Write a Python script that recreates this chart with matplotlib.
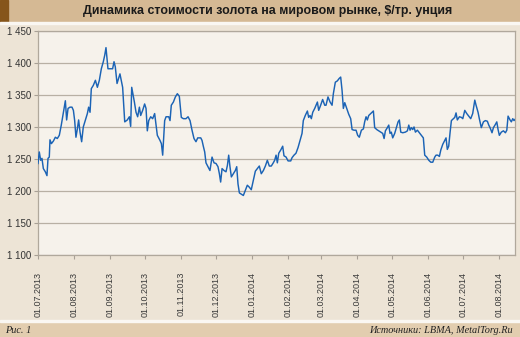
import matplotlib
matplotlib.use('Agg')
import matplotlib.pyplot as plt
import matplotlib.dates as mdates
from matplotlib.patches import Rectangle
import pandas as pd

# LBMA gold price, USD per troy ounce; 'day' counts days from 01.07.2013
day = [
    0, 1.1, 2.3, 3.4, 4.6, 6.3, 7.7, 8.6, 9.7, 10.3, 11.5, 13.2, 14.9, 16.6,
    18.3, 20.0, 21.8, 23.5, 24.6, 25.8, 27.5, 29.2, 30.4, 31.5, 32.6, 33.8,
    34.9, 36.1, 37.5, 38.9, 40.6, 42.4, 43.5, 44.7, 45.8, 47.5, 49.3, 51.0,
    52.7, 54.4, 56.1, 57.3, 58.4, 60.1, 61.9, 64.1, 65.3, 66.4, 67.9,
    70.4, 72.7, 74.5, 76.7, 78.5, 79.6, 80.5, 82.8, 84.2, 85.6, 87.1, 88.2,
    89.9, 91.6, 92.8, 93.9, 95.1, 96.8, 98.5, 100.2, 101.4, 102.5, 104.8,
    106.0, 107.1, 108.8, 110.0, 112.3, 113.4, 114.5, 116.3, 118.0, 119.7,
    121.4, 123.1, 124.9, 127.1, 128.9, 130.6, 132.3, 134.0, 135.7, 137.2,
    139.8, 140.9, 142.0, 143.2, 144.3, 146.0, 147.7, 149.5, 151.2, 152.9,
    154.6, 155.8, 156.9, 158.1, 159.8, 161.5, 162.7, 163.8, 164.9, 166.1,
    167.8, 169.5, 170.7, 171.8, 173.0, 174.7, 176.4, 178.1, 179.8, 181.5,
    183.2, 185.0, 186.7, 188.4, 190.1, 191.8, 193.6, 195.3, 197.0, 198.7,
    200.4, 202.1, 203.3, 204.5, 205.6,
    206.8, 208.5, 210.2, 211.3, 213.1, 214.8, 217.1, 218.2, 219.9, 221.6,
    223.4, 225.1, 226.8, 227.9, 229.6, 231.4, 232.5, 233.7, 234.8, 236.0,
    237.7, 238.8, 240.0, 241.1, 242.8, 244.5, 246.3, 247.4, 249.1, 250.9,
    252.6, 253.7, 255.4, 257.1, 258.8, 260.0, 261.2, 262.3, 263.5, 265.2,
    266.9, 268.6, 269.8, 271.5, 273.2, 274.6,
    276.0, 277.8, 279.5, 280.6, 281.8, 282.9, 284.1, 285.8, 286.9, 288.1,
    289.2, 291.0, 292.7, 294.4, 296.1, 297.3, 298.4, 300.1, 301.3, 302.4,
    303.5, 304.7, 306.4, 308.2, 309.3, 310.4, 311.6, 313.3, 315.6, 317.3,
    318.5, 319.6, 320.7, 321.9, 323.0, 324.2, 325.9, 327.6, 329.3, 331.0,
    332.2, 333.9, 335.7, 337.4, 339.1, 340.8, 341.9, 343.4,
    344.8, 346.0, 347.7, 349.4, 350.5, 351.6, 352.8, 354.0, 355.1, 356.8,
    358.0, 359.1, 360.2, 362.0, 363.7, 364.9, 366.6, 368.3, 370.0, 371.7,
    373.4, 375.2, 376.3, 378.0, 379.1, 380.8, 382.6, 384.3, 386.0, 387.2,
    388.3, 390.0, 391.2, 392.9, 394.1, 395.2, 396.3, 398.0, 399.8, 401.5,
    402.7, 403.8, 405.5, 406.6, 407.8, 408.9, 410.3,
]
price = [
    1243, 1261, 1248, 1251, 1235, 1230, 1224, 1251, 1253, 1280, 1274, 1278,
    1284, 1282, 1287, 1303, 1323, 1341, 1311, 1329, 1331, 1331, 1326, 1310,
    1284, 1297, 1311, 1292, 1277, 1300, 1310, 1321, 1331, 1323, 1360, 1365,
    1373, 1362, 1373, 1391, 1402, 1412, 1424, 1391, 1391, 1391, 1402, 1394,
    1368,
    1383, 1362, 1308, 1311, 1316, 1301, 1362, 1339, 1323, 1316, 1331, 1318,
    1326, 1336, 1329, 1294, 1310, 1316, 1313, 1321, 1303, 1287, 1279, 1274,
    1256, 1310, 1316, 1316, 1310, 1334, 1339, 1347, 1352, 1348, 1315, 1313,
    1313, 1316, 1310, 1295, 1282, 1277, 1283,
    1283, 1279, 1270, 1261, 1244, 1238, 1232, 1253, 1244, 1243, 1238, 1227,
    1214, 1235, 1232, 1230, 1240, 1256, 1238, 1222, 1227, 1232, 1238, 1211,
    1197, 1195, 1193, 1201, 1209, 1206, 1202, 1217, 1231, 1235, 1239, 1227,
    1232, 1239, 1248, 1239, 1239, 1244, 1248, 1256, 1244,
    1259, 1264, 1270, 1255, 1253, 1247, 1247, 1252, 1256, 1259, 1268, 1279,
    1290, 1310, 1318, 1325, 1315, 1318, 1313, 1323, 1329, 1334, 1339, 1326,
    1334, 1343, 1334, 1334, 1347, 1339, 1334, 1352, 1370, 1372, 1376, 1378,
    1357, 1329, 1338, 1329, 1320, 1313, 1296, 1295, 1295, 1287,
    1284, 1295, 1297, 1308, 1316, 1311, 1318, 1321, 1323, 1325, 1299, 1296,
    1294, 1292, 1290, 1282, 1294, 1299, 1303, 1290, 1292, 1283, 1290, 1301,
    1308, 1311, 1292, 1291, 1292, 1294, 1303, 1295, 1299, 1296, 1300, 1292,
    1295, 1291, 1287, 1283, 1256, 1253, 1248, 1245, 1245, 1253, 1256, 1256,
    1254, 1264, 1273, 1279, 1283, 1265, 1270, 1292, 1310, 1313, 1315, 1322,
    1311, 1316, 1315, 1313, 1326, 1321, 1317, 1313, 1321, 1342, 1334, 1323,
    1313, 1299, 1308, 1310, 1309, 1303, 1299, 1291, 1299, 1304, 1308, 1296,
    1287, 1292, 1294, 1291, 1295, 1317, 1311, 1308, 1313, 1310, 1313,
]

start = pd.Timestamp('2013-07-01')
dates = start + pd.to_timedelta(day, unit='D')
month_ticks = pd.date_range('2013-07-01', '2014-08-01', freq='MS')
y_ticks = list(range(1100, 1451, 50))

title = 'Динамика стоимости золота на мировом рынке, $/тр. унция'
fig_no = 'Рис. 1'
source = 'Источники: LBMA, MetalTorg.Ru'

W, H = 520, 337
fig = plt.figure(figsize=(W / 100, H / 100), dpi=100)
fig.patch.set_facecolor('#ede4d6')

# header and footer bands
fig.patches.append(Rectangle((0, 1 - 22 / H), 1, 22 / H,
                             transform=fig.transFigure, color='#d5b994', zorder=0))
fig.patches.append(Rectangle((0, 1 - 22 / H), 8 / W, 22 / H,
                             transform=fig.transFigure, color='#86551a', zorder=1))
fig.patches.append(Rectangle((0, 1 - 24 / H), 1, 2 / H,
                             transform=fig.transFigure, color='#faf7f2', zorder=1))
fig.patches.append(Rectangle((0, 0), 1, 15 / H,
                             transform=fig.transFigure, color='#e2cdaf', zorder=0))
fig.patches.append(Rectangle((0, 15 / H), 1, 2 / H,
                             transform=fig.transFigure, color='#faf7f2', zorder=1))

fig.text(268 / W, 1 - 11 / H, title, ha='center', va='center',
         fontsize=8.9, fontweight='bold', family='Liberation Sans', color='#1a1a1a')
fig.text(5 / W, 6.5 / H, fig_no, ha='left', va='center', fontsize=7.4,
         style='italic', family='Liberation Serif', color='#222222')
fig.text(1 - 7 / W, 6.5 / H, source, ha='right', va='center', fontsize=7.4,
         style='italic', family='Liberation Serif', color='#222222')

ax = fig.add_axes([38 / W, 1 - 255 / H, (515.3 - 38) / W, (255 - 31) / H])
ax.set_facecolor('#f6f2eb')

ax.plot(dates, price, color='#1b63b5', lw=1.05, zorder=3)

ax.set_ylim(1100, 1450)
ax.set_yticks(y_ticks)
ax.set_yticklabels([f'{v // 1000} {v % 1000:03d}' for v in y_ticks],
                   fontsize=7, family='Liberation Sans', color='#333333')
ax.yaxis.grid(True, color='#b8b0a4', lw=0.9)
ax.set_axisbelow(True)

ax.set_xlim(start, start + pd.Timedelta(days=410))
ax.set_xticks(month_ticks)
ax.xaxis.set_major_formatter(mdates.DateFormatter('%d.%m.%Y'))
for lbl in ax.get_xticklabels():
    lbl.set_rotation(90)
    lbl.set_fontsize(6.5)
    lbl.set_family('Liberation Sans')
    lbl.set_color('#3a3a3a')

ax.tick_params(axis='x', length=3, width=0.8, color='#a8a096', pad=9)
ax.tick_params(axis='y', length=3, width=0.8, color='#a8a096', pad=2)
for side in ['left', 'right', 'top', 'bottom']:
    ax.spines[side].set_color('#b0a89c')
    ax.spines[side].set_linewidth(0.9)

fig.savefig('out.png', dpi=100, facecolor=fig.get_facecolor())
